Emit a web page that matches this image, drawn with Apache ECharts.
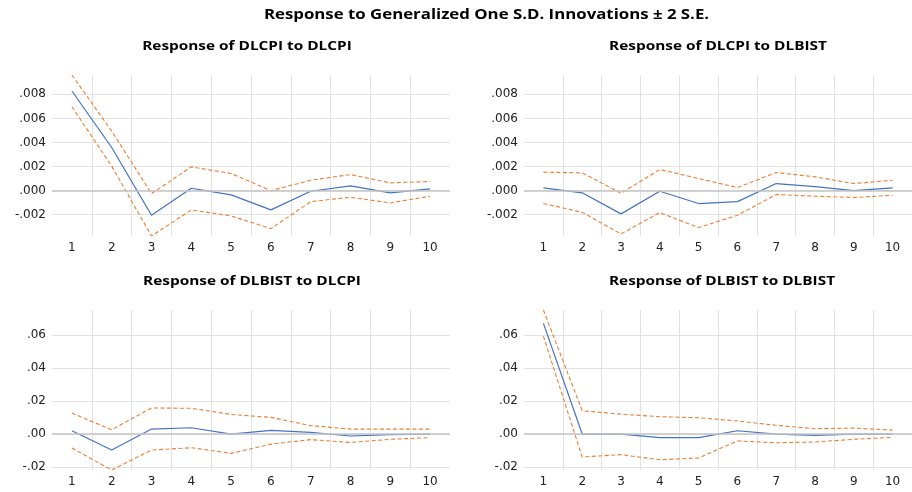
<!DOCTYPE html>
<html>
<head>
<meta charset="utf-8">
<script src="https://cdn.jsdelivr.net/npm/echarts@6/dist/echarts.min.js"></script>
<style>
  html, body { margin: 0; padding: 0; background: #fff; }
  #chart { width: 912px; height: 492px; }
</style>
</head>
<body>
<div id="chart"></div>
<script>
// Impulse-response horizons
const steps = ['1', '2', '3', '4', '5', '6', '7', '8', '9', '10'];

// Response of DLCPI to DLCPI
const cpiToCpi      = [0.00828, 0.00358, -0.00206, 0.00019, -0.00036, -0.00161, -0.00006, 0.00039, -0.00019, 0.00014];
const cpiToCpiUpper = [0.00961, 0.00494, -0.00025, 0.00197, 0.00142, -0.00001, 0.00086, 0.00133, 0.00064, 0.00075];
const cpiToCpiLower = [0.00697, 0.00203, -0.00378, -0.00161, -0.00211, -0.00317, -0.00092, -0.00056, -0.00103, -0.00047];

// Response of DLCPI to DLBIST
const cpiToBist      = [0.00022, -0.00019, -0.00194, -0.00006, -0.00108, -0.00092, 0.00058, 0.00033, 0.00000, 0.00022];
const cpiToBistUpper = [0.00153, 0.00147, -0.00022, 0.00175, 0.00100, 0.00025, 0.00150, 0.00114, 0.00058, 0.00086];
const cpiToBistLower = [-0.00108, -0.00181, -0.00361, -0.00183, -0.00308, -0.00206, -0.00033, -0.00047, -0.00058, -0.00039];

// Response of DLBIST to DLCPI
const bistToCpi      = [0.0020, -0.0097, 0.0030, 0.0038, 0.0000, 0.0022, 0.0010, -0.0012, -0.0004, 0.0000];
const bistToCpiUpper = [0.0127, 0.0026, 0.0158, 0.0156, 0.0119, 0.0101, 0.0051, 0.0030, 0.0030, 0.0030];
const bistToCpiLower = [-0.0085, -0.0218, -0.0097, -0.0083, -0.0117, -0.0061, -0.0034, -0.0051, -0.0032, -0.0022];

// Response of DLBIST to DLBIST
const bistToBist      = [0.0671, 0.0000, 0.0000, -0.0022, -0.0022, 0.0020, 0.0000, -0.0008, 0.0000, 0.0000];
const bistToBistUpper = [0.0752, 0.0141, 0.0121, 0.0105, 0.0099, 0.0079, 0.0053, 0.0032, 0.0036, 0.0024];
const bistToBistLower = [0.0594, -0.0139, -0.0125, -0.0156, -0.0145, -0.0042, -0.0053, -0.0048, -0.0032, -0.0020];

// Value-axis tick labels for each row of panels
const topTickValues    = [-0.002, 0, 0.002, 0.004, 0.006, 0.008];
const topTickLabels    = ['-.002', '.000', '.002', '.004', '.006', '.008'];
const bottomTickValues = [-0.02, 0, 0.02, 0.04, 0.06];
const bottomTickLabels = ['-.02', '.00', '.02', '.04', '.06'];

const mainTitle = 'Response to Generalized One S.D. Innovations \u00b1 2 S.E.';
const panelTitles = [
  'Response of DLCPI to DLCPI',
  'Response of DLCPI to DLBIST',
  'Response of DLBIST to DLCPI',
  'Response of DLBIST to DLBIST'
];

const BLUE = '#4472C4';
const ORANGE = '#ED7D31';
const GRID_COLOR = '#e2e2e2';
const ZERO_COLOR = '#c4c4c4';
const LABEL_FONT = '"DejaVu Sans", sans-serif';

const panels = [
  { mid: cpiToCpi,   up: cpiToCpiUpper,   lo: cpiToCpiLower,   row: 0 },
  { mid: cpiToBist,  up: cpiToBistUpper,  lo: cpiToBistLower,  row: 0 },
  { mid: bistToCpi,  up: bistToCpiUpper,  lo: bistToCpiLower,  row: 1 },
  { mid: bistToBist, up: bistToBistUpper, lo: bistToBistLower, row: 1 }
];

// Each row shares one value range spanning all of its bands
const rowExtent = [0, 1].map(r => {
  const vals = panels.filter(p => p.row === r).flatMap(p => p.up.concat(p.lo, p.mid));
  return [Math.min(...vals), Math.max(...vals)];
});
const rowTicks = [
  { values: topTickValues, labels: topTickLabels, step: 0.002 },
  { values: bottomTickValues, labels: bottomTickLabels, step: 0.02 }
];

const gridBoxes = [
  { left: 52,  top: 75,  width: 398, height: 161 },
  { left: 524, top: 75,  width: 398, height: 161 },
  { left: 52,  top: 310, width: 398, height: 160 },
  { left: 524, top: 310, width: 398, height: 160 }
];

function tickLabel(row) {
  const t = rowTicks[row];
  return function (v) {
    for (let i = 0; i < t.values.length; i++) {
      if (Math.abs(v - t.values[i]) < t.step * 1e-3) return t.labels[i];
    }
    return '';
  };
}

const xAxes = [], yAxes = [], series = [];
panels.forEach((p, i) => {
  xAxes.push({
    gridIndex: i,
    type: 'category',
    data: steps,
    boundaryGap: true,
    axisLine: { show: false },
    axisTick: { show: false },
    axisLabel: { interval: 0, margin: 6, color: '#222', fontFamily: LABEL_FONT, fontSize: 12 },
    splitLine: {
      show: true, interval: 0, showMinLine: false, showMaxLine: false,
      lineStyle: { color: GRID_COLOR, width: 1 }
    }
  });
  yAxes.push({
    gridIndex: i,
    type: 'value',
    min: rowExtent[p.row][0],
    max: rowExtent[p.row][1],
    splitNumber: 7,
    minInterval: rowTicks[p.row].step,
    maxInterval: rowTicks[p.row].step,
    axisLine: { show: false },
    axisTick: { show: false },
    axisLabel: {
      showMinLabel: false, showMaxLabel: false, margin: 6,
      color: '#222', fontFamily: LABEL_FONT, fontSize: 12,
      formatter: tickLabel(p.row)
    },
    splitLine: {
      show: true, showMinLine: false, showMaxLine: false,
      lineStyle: { color: GRID_COLOR, width: 1 }
    }
  });
  const common = { xAxisIndex: i, yAxisIndex: i, type: 'line', symbol: 'none', silent: true, animation: false };
  series.push(Object.assign({}, common, {
    name: 'zero', data: [],
    markLine: {
      silent: true, symbol: 'none', animation: false,
      label: { show: false },
      lineStyle: { color: ZERO_COLOR, type: 'solid', width: 1.5 },
      data: [{ yAxis: 0 }]
    }
  }));
  series.push(Object.assign({}, common, {
    data: p.up, lineStyle: { color: ORANGE, width: 1.1, type: [4, 2.5] }
  }));
  series.push(Object.assign({}, common, {
    data: p.lo, lineStyle: { color: ORANGE, width: 1.1, type: [4, 2.5] }
  }));
  series.push(Object.assign({}, common, {
    data: p.mid, lineStyle: { color: BLUE, width: 1.2 }
  }));
});

function headText(text, x, y, size, sx) {
  return {
    type: 'text', x: x, y: y, scaleX: sx, silent: true,
    style: {
      text: text, fill: '#000',
      font: 'bold ' + size + 'px "Open Sans", sans-serif',
      textAlign: 'center', textVerticalAlign: 'middle',
      align: 'center', verticalAlign: 'middle'
    }
  };
}

const chart = echarts.init(document.getElementById('chart'), null, { renderer: 'canvas' });
chart.setOption({
  animation: false,
  backgroundColor: '#fff',
  grid: gridBoxes,
  xAxis: xAxes,
  yAxis: yAxes,
  series: series,
  graphic: [
    headText(mainTitle, 486.5, 15, 14, 1.2),
    headText(panelTitles[0], 247, 47, 12, 1.28),
    headText(panelTitles[1], 718, 47, 12, 1.28),
    headText(panelTitles[2], 252, 282, 12, 1.28),
    headText(panelTitles[3], 722, 282, 12, 1.28)
  ]
});
</script>
</body>
</html>
